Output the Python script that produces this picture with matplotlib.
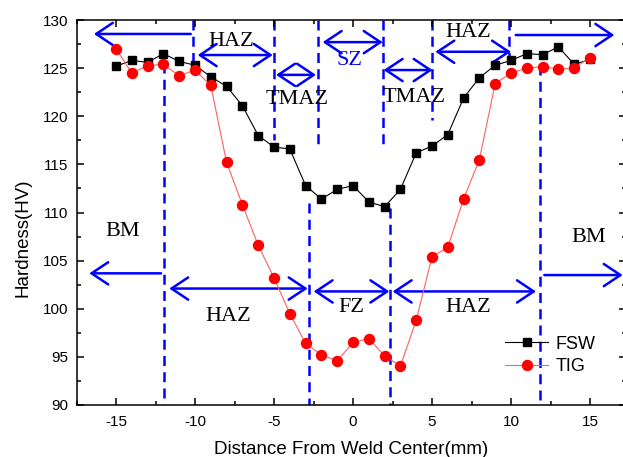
import matplotlib
matplotlib.use("Agg")
import matplotlib.pyplot as plt
from matplotlib.ticker import MultipleLocator

# hardness profile across the weld
distance = list(range(-15, 16))
fsw = [125.2, 125.8, 125.6, 126.5, 125.7, 125.3, 124.1, 123.1, 121.1, 118.0,
       116.8, 116.6, 112.8, 111.4, 112.4, 112.8, 111.1, 110.6, 112.4, 116.2,
       116.9, 118.1, 121.9, 124.0, 125.3, 125.8, 126.5, 126.4, 127.2, 125.4, 125.9]
tig = [127.0, 124.5, 125.25, 125.4, 124.2, 124.8, 123.2, 115.2, 110.8, 106.6,
       103.2, 99.5, 96.4, 95.2, 94.6, 96.5, 96.9, 95.1, 94.05, 98.8,
       105.4, 106.4, 111.4, 115.5, 123.4, 124.5, 125.0, 125.15, 124.9, 125.0, 126.1]

# zone boundaries: (x, y_from, y_to)
boundaries = [(-11.94, 125.5, 90), (-10.1, 130, 125.2), (-5.02, 130, 117.5),
              (-2.2, 130, 117.0), (-2.76, 111.0, 90), (1.92, 130, 116.8),
              (2.36, 110.5, 90), (5.0, 130, 119.6), (9.9, 130, 125.7),
              (11.86, 125.3, 90)]

# zone arrows: (x_tail, x_head, y, style)
arrows = [(-10.27, -16.4, 128.55, "->"), (-9.83, -5.08, 126.36, "<->"),
          (-4.87, -2.34, 124.3, "<->"), (-1.92, 1.88, 127.7, "<->"),
          (1.94, 5.04, 124.8, "<->"), (5.21, 10.0, 126.7, "<->"),
          (10.3, 16.54, 128.44, "->"),
          (-12.15, -16.69, 103.68, "->"), (-11.63, -2.87, 102.1, "<->"),
          (-2.49, 2.3, 101.8, "<->"), (2.51, 11.58, 101.8, "<->"),
          (12.11, 17.07, 103.5, "->")]

# zone labels: (x, y, text, colour)
zone_labels = [(-7.72, 127.75, "HAZ", "black"), (-3.55, 121.7, "TMAZ", "black"),
               (-0.25, 125.8, "SZ", "blue"), (3.88, 121.9, "TMAZ", "black"),
               (7.26, 128.7, "HAZ", "black"), (-14.58, 108.0, "BM", "black"),
               (-7.88, 99.23, "HAZ", "black"), (-0.1, 100.1, "FZ", "black"),
               (7.26, 100.1, "HAZ", "black"), (14.9, 107.4, "BM", "black")]

plt.rcParams["font.family"] = ["Liberation Sans", "DejaVu Sans"]
plt.rcParams["axes.unicode_minus"] = False

fig = plt.figure(figsize=(6.23, 4.57), dpi=100)
W, H = 623, 457
ax = fig.add_axes([76.5 / W, (H - 405) / H, (626 - 76.5) / W, 385 / H])

for x, y0, y1 in boundaries:
    ax.plot([x, x], [y0, y1], color="blue", lw=1.8, ls=(0, (4, 2.5)), zorder=1)

for x0, x1, y, style in arrows:
    ax.annotate("", xy=(x1, y), xytext=(x0, y),
                arrowprops=dict(arrowstyle=style + ",head_length=0.6,head_width=0.4",
                                color="blue", lw=1.8, mutation_scale=20,
                                shrinkA=0, shrinkB=0), zorder=2)

for x, y, s, c in zone_labels:
    ax.text(x, y, s, color=c, fontsize=16, family="Liberation Serif",
            ha="center", va="center", zorder=3)

ax.plot(distance, fsw, color="black", lw=0.8, marker="s", ms=6.2,
        label="FSW", zorder=4)
ax.plot(distance, tig, color="#ff6060", lw=0.8, marker="o", ms=7.2,
        mfc="red", mec="red", label="TIG", zorder=5)

ax.set_xlim(-17.5, -17.5 + (626 - 76.5) / 15.8)
ax.set_ylim(90, 130)
ax.xaxis.set_major_locator(MultipleLocator(5))
ax.xaxis.set_minor_locator(MultipleLocator(2.5))
ax.yaxis.set_major_locator(MultipleLocator(5))
ax.yaxis.set_minor_locator(MultipleLocator(2.5))
ax.tick_params(which="both", direction="in", top=True, right=True,
               labelsize=11, width=1.1)
ax.tick_params(which="major", length=5)
ax.tick_params(which="minor", length=3)
ax.tick_params(axis="y", pad=6)
ax.tick_params(axis="x", pad=7)
for sp in ax.spines.values():
    sp.set_linewidth(1.1)

ax.set_xlabel("Distance From Weld Center(mm)", fontsize=13.5)
ax.set_ylabel("Hardness(HV)", fontsize=13.5)
ax.xaxis.set_label_coords(0.5, -0.093)
ax.yaxis.set_label_coords(-0.0815, 0.435)

ax.legend(loc="upper left", bbox_to_anchor=(0.78, 0.18), frameon=False,
          fontsize=13, handlelength=2.4, handletextpad=0.4,
          borderpad=0, borderaxespad=0, labelspacing=0.3)

fig.savefig("out.png", dpi=100)
